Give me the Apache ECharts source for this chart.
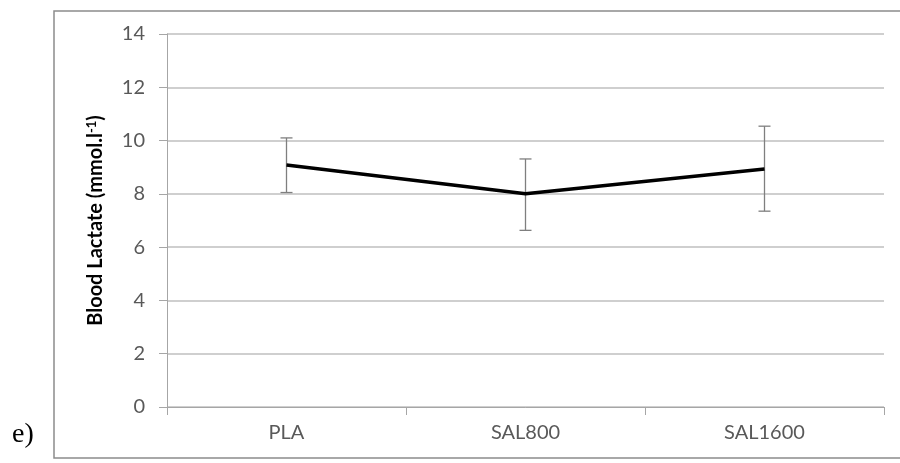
<!DOCTYPE html>
<html>
<head>
<meta charset="utf-8">
<script src="https://cdn.jsdelivr.net/npm/echarts@6/dist/echarts.min.js"></script>
<style>html,body{margin:0;padding:0;background:#fff}#c{width:900px;height:463px}</style>
</head>
<body>
<div id="c"></div>
<script>
const categories = ['PLA', 'SAL800', 'SAL1600'];
const means = [9.08, 8.0, 8.93];
const upper = [10.1, 9.31, 10.54];
const lower = [8.05, 6.63, 7.35];
const yTicks = [0, 2, 4, 6, 8, 10, 12, 14];

const chart = echarts.init(document.getElementById('c'), null, {renderer: 'canvas'});
const font = 'Lato';
const errData = categories.map((c, i) => [i, lower[i], upper[i]]);

chart.setOption({
  animation: false,
  backgroundColor: '#fff',
  grid: {left: 167, right: 16, top: 34, bottom: 56, containLabel: false},
  xAxis: {
    type: 'category',
    data: categories,
    boundaryGap: true,
    axisLine: {lineStyle: {color: '#a6a6a6', width: 1}},
    axisTick: {show: true, length: 8, lineStyle: {color: '#a6a6a6'}},
    axisLabel: {color: '#595959', fontFamily: font, fontSize: 20, margin: 16},
    splitLine: {show: false}
  },
  yAxis: {
    type: 'value',
    min: yTicks[0], max: yTicks[yTicks.length - 1], interval: 2,
    axisLine: {show: true, lineStyle: {color: '#a6a6a6', width: 1}},
    axisTick: {show: true, length: 8, lineStyle: {color: '#a6a6a6'}},
    axisLabel: {color: '#595959', fontFamily: font, fontSize: 20, margin: 22},
    splitLine: {show: true, lineStyle: {color: '#bfbfbf', width: 1.5}},
    name: '{b|Blood Lactate (mmol.l}{s|-1}{b|)}',
    nameLocation: 'middle',
    nameGap: 60,
    nameRotate: 90,
    nameTextStyle: {
      rich: {
        b: {fontFamily: font, fontWeight: 'bold', fontSize: 20, color: '#000'},
        s: {fontFamily: font, fontWeight: 'bold', fontSize: 13, color: '#000', verticalAlign: 'top', padding: [0, 0, 9, 0]}
      }
    }
  },
  graphic: [
    {type: 'rect', shape: {x: 54, y: 11, width: 880, height: 447}, style: {fill: 'none', stroke: '#8c8c8c', lineWidth: 1.5}, z: -1},
    {type: 'text', left: 12, top: 421, style: {text: 'e)', font: '28px "Liberation Serif", "DejaVu Serif", serif', fill: '#000'}}
  ],
  series: [
    {
      type: 'line',
      data: means,
      symbol: 'none',
      lineStyle: {color: '#000', width: 3.5},
      z: 3
    },
    {
      type: 'custom',
      data: errData,
      z: 2,
      renderItem: function (params, api) {
        const x = api.value(0);
        const lo = api.coord([x, api.value(1)]);
        const hi = api.coord([x, api.value(2)]);
        const hw = 6;
        const st = {stroke: '#7f7f7f', lineWidth: 1.3};
        return {
          type: 'group',
          children: [
            {type: 'line', shape: {x1: hi[0], y1: hi[1], x2: lo[0], y2: lo[1]}, style: st},
            {type: 'line', shape: {x1: hi[0] - hw, y1: hi[1], x2: hi[0] + hw, y2: hi[1]}, style: st},
            {type: 'line', shape: {x1: lo[0] - hw, y1: lo[1], x2: lo[0] + hw, y2: lo[1]}, style: st}
          ]
        };
      }
    }
  ]
});
</script>
</body>
</html>
